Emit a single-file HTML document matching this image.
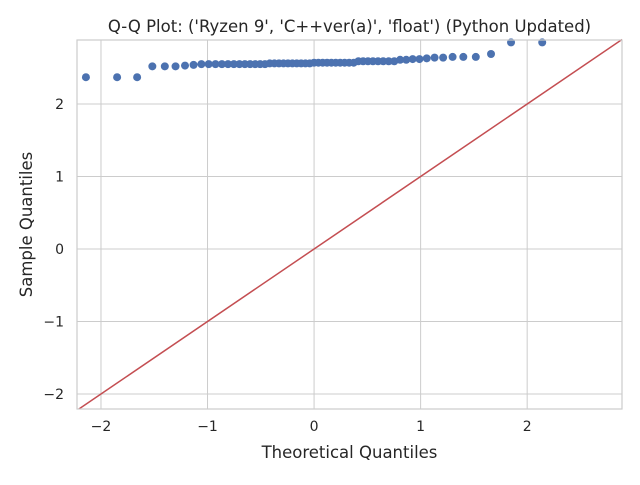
<!DOCTYPE html>
<html><head><meta charset="utf-8"><style>
body{margin:0;background:#fff;}
svg text{font-family:"DejaVu Sans","Liberation Sans",sans-serif;fill:#262626;}
</style></head><body>
<svg id="chart" width="640" height="480" xmlns="http://www.w3.org/2000/svg">
<rect width="640" height="480" fill="#fff"/>
<g id="grid"></g>
<g id="marks"></g>
<g id="frame"></g>
<g id="labels"></g>
</svg>
<script>
const sampleValues = [2.37,2.37,2.37,2.52,2.52,2.52,2.53,2.54,2.55,2.55,2.55,2.55,2.55,2.55,2.55,2.55,2.55,2.55,2.55,2.55,2.56,2.56,2.56,2.56,2.56,2.56,2.56,2.56,2.56,2.56,2.57,2.57,2.57,2.57,2.57,2.57,2.57,2.57,2.57,2.57,2.59,2.59,2.59,2.59,2.59,2.59,2.59,2.59,2.61,2.61,2.62,2.62,2.63,2.64,2.64,2.65,2.65,2.65,2.69,2.85,2.85];
const xTicks = [-2,-1,0,1,2];
const yTicks = [-2,-1,0,1,2];
const xDomain = [-2.225, 2.89];
const yDomain = [-2.207, 2.883];
const L=77,R=622,T=40,B=409;
const NS="http://www.w3.org/2000/svg";
function sx(v){return L+(v-xDomain[0])/(xDomain[1]-xDomain[0])*(R-L);}
function sy(v){return B-(v-yDomain[0])/(yDomain[1]-yDomain[0])*(B-T);}
function ppf(p){
 const a=[-39.69683028665376,220.9460984245205,-275.9285104469687,138.3577518672690,-30.66479806614716,2.506628277459239];
 const b=[-54.47609879822406,161.5858368580409,-155.6989798598866,66.80131188771972,-13.28068155288572];
 const c=[-0.007784894002430293,-0.3223964580411365,-2.400758277161838,-2.549732539343734,4.374664141464968,2.938163982698783];
 const d=[0.007784695709041462,0.3224671290700398,2.445134137142996,3.754408661907416];
 let q,r;
 if(p<0.02425){q=Math.sqrt(-2*Math.log(p));return (((((c[0]*q+c[1])*q+c[2])*q+c[3])*q+c[4])*q+c[5])/((((d[0]*q+d[1])*q+d[2])*q+d[3])*q+1);}
 if(p>1-0.02425){q=Math.sqrt(-2*Math.log(1-p));return -(((((c[0]*q+c[1])*q+c[2])*q+c[3])*q+c[4])*q+c[5])/((((d[0]*q+d[1])*q+d[2])*q+d[3])*q+1);}
 q=p-0.5;r=q*q;return (((((a[0]*r+a[1])*r+a[2])*r+a[3])*r+a[4])*r+a[5])*q/(((((b[0]*r+b[1])*r+b[2])*r+b[3])*r+b[4])*r+1);
}
function mk(tag,attrs,parent,text){const e=document.createElementNS(NS,tag);for(const k in attrs)e.setAttribute(k,attrs[k]);if(text!==undefined)e.textContent=text;document.getElementById(parent).appendChild(e);return e;}
xTicks.forEach(t=>{
 const g=mk('line',{x1:sx(t),x2:sx(t),y1:T,y2:B,stroke:'#cccccc','stroke-width':1},'grid');
 
 
 const tx=mk('text',{x:sx(t),y:B+22,'text-anchor':'middle','font-size':'14'},'labels',t<0?'\u2212'+Math.abs(t):String(t));
 
 
});
yTicks.forEach(t=>{
 const g=mk('line',{x1:L,x2:R,y1:sy(t),y2:sy(t),stroke:'#cccccc','stroke-width':1},'grid');
 
 
 const tx=mk('text',{x:L-13,y:sy(t)+5,'text-anchor':'end','font-size':'14'},'labels',t<0?'\u2212'+Math.abs(t):String(t));
 
 
});
const n=sampleValues.length;
sampleValues.forEach((v,i)=>{
 const x=ppf((i+1)/(n+1));
 const c=mk('circle',{cx:sx(x),cy:sy(v),r:4,fill:'#4c72b0'},'marks');
 
 
});
const ln=mk('line',{x1:sx(xDomain[0]),y1:sy(xDomain[0]),x2:sx(xDomain[1]),y2:sy(xDomain[1]),stroke:'#c44e52','stroke-width':1.5},'marks');


document.getElementById('marks').setAttribute('clip-path','url(#clip)');
const defs=document.createElementNS(NS,'defs');defs.innerHTML='<clipPath id="clip"><rect x="'+L+'" y="'+(T-6)+'" width="'+(R-L)+'" height="'+(B-T+6)+'"/></clipPath>';
document.getElementById('chart').prepend(defs);
const fr=mk('rect',{x:L,y:T,width:R-L,height:B-T,fill:'none',stroke:'#cccccc','stroke-width':1.2},'frame');


const ti=mk('text',{x:(L+R)/2,y:32,'text-anchor':'middle','font-size':'16.5'},'labels',"Q-Q Plot: ('Ryzen 9', 'C++ver(a)', 'float') (Python Updated)");


const xl=mk('text',{x:(L+R)/2,y:458,'text-anchor':'middle','font-size':'16.5'},'labels','Theoretical Quantiles');


const yl=mk('text',{x:0,y:0,'text-anchor':'middle','font-size':'16.5',transform:'translate(32,'+((T+B)/2)+') rotate(-90)'},'labels','Sample Quantiles');


</script>
</body></html>
